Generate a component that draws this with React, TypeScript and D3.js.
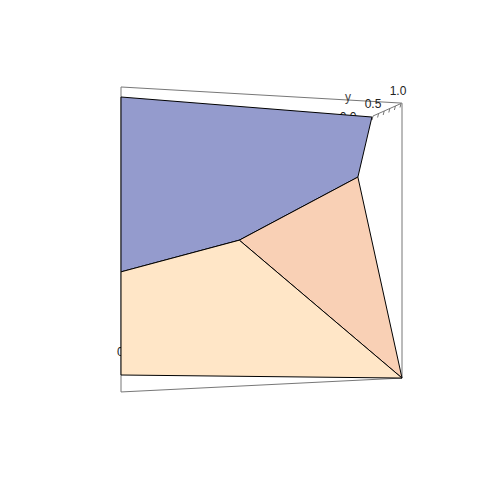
import React from 'react';
import * as d3 from 'd3';

// polygon vertices in plot units (x across, z up)
const blueX = [0, 0.893, 0.843, 0.421, 0];
const blueZ = [1, 0.928, 0.712, 0.485, 0.371];
const salmonX = [0.421, 0.843, 1];
const salmonZ = [0.485, 0.712, -0.011];
const peachX = [0, 0.421, 1, 0];
const peachZ = [0.371, 0.485, -0.011, 0];

const boxX = [0, 1, 1, 0, 0];
const boxZ = [1.036, 0.978, -0.011, -0.061, 1.036];

const yTicks = [0, 0.5, 1];
const yTickLabels = ['0.0', '0.5', '1.0'];
const minorTicks = [0.55, 0.64, 0.73, 0.82, 0.91, 1];

const colors = { blue: '#949bcd', salmon: '#f9d0b5', peach: '#ffe6c7' };

export default function App() {
  const W = 480;
  const H = 480;
  const x = d3.scaleLinear().domain([0, 1]).range([121, 402]);
  const z = d3.scaleLinear().domain([0, 1]).range([375, 97]);
  // projected y axis running into the depth at the top right
  const ax = d3.scaleLinear().domain([0, 1]).range([348, 398]);
  const az = d3.scaleLinear().domain([0, 1]).range([117, 91]);
  const tx = d3.scaleLinear().domain([0.55, 1]).range([373, 401]);
  const tz = d3.scaleLinear().domain([0.55, 1]).range([116, 103.5]);

  const line = d3.line<[number, number]>().x(d => x(d[0])).y(d => z(d[1]));
  const poly = (xs: number[], zs: number[]) =>
    line(xs.map((v, i) => [v, zs[i]] as [number, number])) + 'Z';

  return (
    <svg width={W} height={H} style={{ position: 'absolute', left: 0, top: 0, fontFamily: 'Liberation Sans, Arial, sans-serif' }}>
      <rect width={W} height={H} fill="#fff" />
      <path d={line(boxX.map((v, i) => [v, boxZ[i]] as [number, number])) ?? ''} fill="none" stroke="#777" strokeWidth={1} />
      <text x={117} y={356} fontSize={12} fill="#222">0</text>
      {yTicks.map((t, i) => (
        <text key={t} x={ax(t)} y={az(t) + 4} fontSize={12} fill="#222" textAnchor="middle">{yTickLabels[i]}</text>
      ))}
      <text x={348} y={101} fontSize={12} fill="#444" textAnchor="middle">y</text>
      <line x1={tx(0.55)} y1={tz(0.55)} x2={tx(1)} y2={tz(1)} stroke="#777" />
      {minorTicks.map(t => (
        <line key={t} x1={tx(t)} y1={tz(t)} x2={tx(t) - 1} y2={tz(t) + 4} stroke="#777" />
      ))}
      <path d={poly(blueX, blueZ)} fill={colors.blue} stroke="#000" strokeWidth={1} strokeLinejoin="round" />
      <path d={poly(salmonX, salmonZ)} fill={colors.salmon} stroke="#000" strokeWidth={1} strokeLinejoin="round" />
      <path d={poly(peachX, peachZ)} fill={colors.peach} stroke="#000" strokeWidth={1} strokeLinejoin="round" />
    </svg>
  );
}
